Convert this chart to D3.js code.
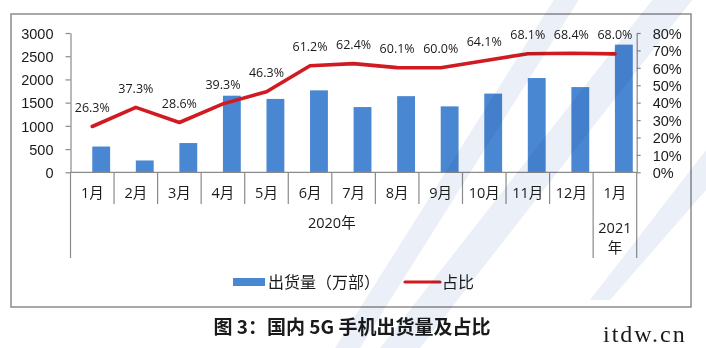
<!DOCTYPE html>
<html>
<head>
<meta charset="utf-8">
<script src="https://cdn.jsdelivr.net/npm/d3@7"></script>
<style>
  html, body { margin: 0; padding: 0; background: #fff; }
  svg { display: block; }
  text { font-family: "Open Sans", "Noto Sans CJK SC", sans-serif; fill: #1a1a1a; }
</style>
</head>
<body>
<svg id="chart" width="706" height="348"></svg>
<script>
// Monthly 5G handset shipments (10k units) and their share of all handsets
const months = ["1月", "2月", "3月", "4月", "5月", "6月", "7月", "8月", "9月", "10月", "11月", "12月", "1月"];
const shipments = [555, 255, 630, 1650, 1580, 1765, 1405, 1640, 1420, 1695, 2030, 1835, 2750];
const sharePct = [26.3, 37.3, 28.6, 39.3, 46.3, 61.2, 62.4, 60.1, 60.0, 64.1, 68.1, 68.4, 68.0];
const yearGroups = [["2020年"], ["2021", "年"]];
const yearSpans = [12, 1];
const leftTicks = [0, 500, 1000, 1500, 2000, 2500, 3000];
const rightTicks = [0, 10, 20, 30, 40, 50, 60, 70, 80];
const legendLabels = ["出货量（万部）", "占比"];
const title = "图 3：国内 5G 手机出货量及占比";
const siteMark = "itdw.cn";

const svg = d3.select("#chart");
const axisColor = "#8a8a8a";
const barColor = "#4a87d2";
const lineColor = "#d11b22";

const plot = { left: 70.5, right: 636.7, top: 33, bottom: 172.3 };

const x = d3.scaleBand()
  .domain(d3.range(months.length))
  .range([plot.left, plot.right])
  .paddingInner(0).paddingOuter(0);
const center = i => x(i) + x.bandwidth() / 2;

const yLeft = d3.scaleLinear().domain([0, 3000]).range([plot.bottom, plot.top]);
const yRight = d3.scaleLinear().domain([0, 80]).range([plot.bottom, plot.top]);

// outer frame
svg.append("rect")
  .attr("x", 11).attr("y", 14).attr("width", 680).attr("height", 293)
  .attr("fill", "none").attr("stroke", "#8c8c8c").attr("stroke-width", 1.5);

// left value axis
const gL = svg.append("g")
  .attr("transform", `translate(${plot.left},0)`)
  .call(d3.axisLeft(yLeft).tickValues(leftTicks).tickSize(5).tickSizeOuter(0).tickPadding(12)
    .tickFormat(d3.format("d")));

// right percent axis
const gR = svg.append("g")
  .attr("transform", `translate(${plot.right},0)`)
  .call(d3.axisRight(yRight).tickValues(rightTicks).tickSize(4).tickSizeOuter(0).tickPadding(12)
    .tickFormat(d => d + "%"));

[gL, gR].forEach(g => {
  g.select(".domain").attr("stroke", axisColor).attr("stroke-width", 1.2);
  g.selectAll(".tick line").attr("stroke", axisColor).attr("stroke-width", 1.2);
  g.selectAll("text")
    .attr("fill", "#1a1a1a")
    .attr("dy", "0.36em")
    .style("font-size", "14.5px")
    .style("font-family", "'Liberation Sans', Arial, sans-serif");
});

// bars: each sits from the band centre to the right
const barW = x.bandwidth() * 0.41;
svg.append("g").selectAll("rect")
  .data(shipments)
  .join("rect")
  .attr("x", (d, i) => center(i))
  .attr("y", d => yLeft(d))
  .attr("width", barW)
  .attr("height", d => yLeft(0) - yLeft(d))
  .attr("fill", barColor);

// category axis: baseline, month dividers and year dividers
const cat = svg.append("g").attr("stroke", axisColor).attr("stroke-width", 1.2);
cat.append("line")
  .attr("x1", plot.left).attr("x2", plot.right)
  .attr("y1", plot.bottom).attr("y2", plot.bottom);
const yearEdges = [0];
yearSpans.forEach(s => yearEdges.push(yearEdges[yearEdges.length - 1] + s));
d3.range(months.length + 1).forEach(i => {
  const xx = i < months.length ? x(i) : plot.right;
  const long = yearEdges.includes(i);
  cat.append("line")
    .attr("x1", xx).attr("x2", xx)
    .attr("y1", plot.bottom).attr("y2", long ? 258 : 204);
});

svg.append("g").selectAll("text")
  .data(months)
  .join("text")
  .attr("x", (d, i) => center(i))
  .attr("y", 193)
  .attr("dy", "0.36em")
  .attr("text-anchor", "middle")
  .style("font-size", "14.5px")
  .text(d => d);

yearGroups.forEach((lines, gi) => {
  const x0 = x(yearEdges[gi]);
  const x1 = yearEdges[gi + 1] < months.length ? x(yearEdges[gi + 1]) : plot.right;
  const cx = (x0 + x1) / 2;
  const y0 = lines.length === 1 ? 223 : 228;
  lines.forEach((t, li) => {
    svg.append("text")
      .attr("x", cx).attr("y", y0 + li * 20)
      .attr("dy", "0.36em")
      .attr("text-anchor", "middle")
      .style("font-size", "14.5px")
      .text(t);
  });
});

// share line
const line = d3.line()
  .x((d, i) => center(i))
  .y(d => yRight(d));
svg.append("path")
  .datum(sharePct)
  .attr("d", line)
  .attr("fill", "none")
  .attr("stroke", lineColor)
  .attr("stroke-width", 3.6)
  .attr("stroke-linejoin", "round")
  .attr("stroke-linecap", "round");

svg.append("g").selectAll("text")
  .data(sharePct)
  .join("text")
  .attr("x", (d, i) => center(i))
  .attr("y", d => yRight(d) - 19)
  .attr("dy", "0.36em")
  .attr("text-anchor", "middle")
  .style("font-size", "12.5px")
  .text(d => d.toFixed(1) + "%");

// legend
const leg = svg.append("g").attr("transform", "translate(0,282)");
leg.append("rect").attr("x", 233).attr("y", -4).attr("width", 32).attr("height", 8).attr("fill", barColor);
leg.append("text").attr("x", 268).attr("dy", "0.36em")
  .style("font-size", "16px").style("font-family", "'Noto Sans CJK SC', sans-serif")
  .text(legendLabels[0]);
leg.append("line").attr("x1", 405).attr("x2", 440).attr("y1", 0).attr("y2", 0)
  .attr("stroke", lineColor).attr("stroke-width", 3.2).attr("stroke-linecap", "round");
leg.append("text").attr("x", 442).attr("dy", "0.36em")
  .style("font-size", "16px").style("font-family", "'Noto Sans CJK SC', sans-serif")
  .text(legendLabels[1]);

// caption
svg.append("text")
  .attr("x", 352).attr("y", 327).attr("dy", "0.36em")
  .attr("text-anchor", "middle")
  .style("font-size", "19px").style("font-weight", "bold")
  .style("font-family", "'Noto Sans CJK SC', sans-serif")
  .attr("fill", "#000")
  .text(title);

// site mark, bottom right
svg.append("text")
  .attr("x", 603).attr("y", 342)
  .style("font-size", "24px")
  .style("font-family", "'Liberation Serif', serif")
  .style("letter-spacing", "2px")
  .attr("fill", "#222")
  .text(siteMark);

// pale diagonal strokes of the background emblem
const emblem = svg.append("g")
  .style("mix-blend-mode", "multiply")
  .attr("fill", "#cdd6ea")
  .attr("opacity", 0.4);
[
  [[660, -10], [700, -10], [420, 348], [380, 348]],
  [[560, -10], [585, -10], [360, 348], [335, 348]],
  [[706, 150], [706, 190], [610, 300], [590, 300]]
].forEach(pts => {
  emblem.append("path").attr("d", d3.line()(pts) + "Z");
});
</script>
</body>
</html>
